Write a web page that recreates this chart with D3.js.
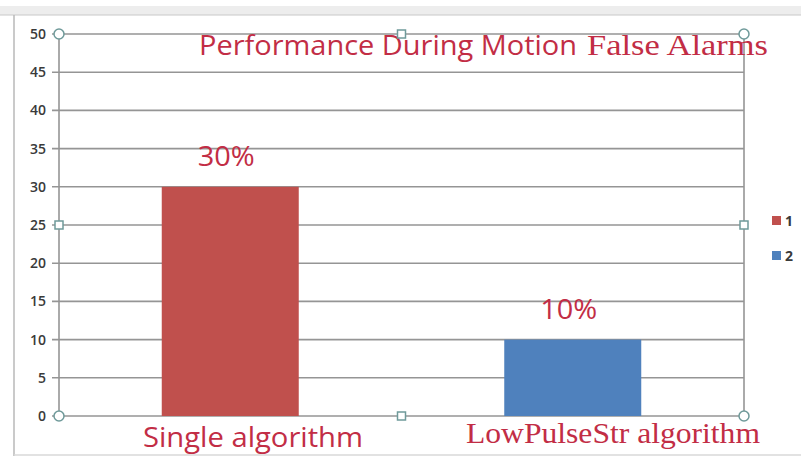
<!DOCTYPE html>
<html><head><meta charset="utf-8">
<script src="https://cdn.jsdelivr.net/npm/d3@7"></script>
<style>body{margin:0;background:#fff}svg{display:block}</style>
</head><body>
<svg id="c" width="801" height="461"></svg>
<script>
const categories = ["Single algorithm", "LowPulseStr algorithm"];
const values = [30, 10];
const valueLabels = ["30%", "10%"];
const seriesNames = ["1", "2"];
const yTicks = [0, 5, 10, 15, 20, 25, 30, 35, 40, 45, 50];
const titleParts = ["Performance During Motion", "False Alarms"];

const colors = ["#C0504D", "#4F81BD"];
const textRed = "#c22d45";
const svg = d3.select("#c");

// outer frame
svg.append("rect").attr("x", 0).attr("y", 6).attr("width", 801).attr("height", 9).attr("fill", "#ededed");
svg.append("line").attr("x1", 0).attr("x2", 801).attr("y1", 15).attr("y2", 15).attr("stroke", "#c8c8c8");
svg.append("line").attr("x1", 14).attr("x2", 14).attr("y1", 15).attr("y2", 456).attr("stroke", "#b8b8b8").attr("stroke-width", 1.5);
svg.append("line").attr("x1", 14).attr("x2", 801).attr("y1", 455).attr("y2", 455).attr("stroke", "#d8d8d8").attr("stroke-width", 1.5);

const L = 59, R = 744, T = 34, B = 416;
const x = d3.scaleBand().domain(categories).range([L, R]).paddingInner(0.6).paddingOuter(0.3);
const y = d3.scaleLinear().domain([0, 50]).range([B, T]);

// gridlines
svg.append("g").selectAll("line").data(yTicks).join("line")
  .attr("x1", L - 7).attr("x2", R).attr("y1", d => y(d)).attr("y2", d => y(d))
  .attr("stroke", "#959595").attr("stroke-width", 1.6);

// axis lines
svg.append("line").attr("x1", L).attr("x2", L).attr("y1", T).attr("y2", B).attr("stroke", "#959595").attr("stroke-width", 1.6);
svg.append("line").attr("x1", R).attr("x2", R).attr("y1", T).attr("y2", B).attr("stroke", "#959595").attr("stroke-width", 1.6);

// tick labels
svg.append("g").selectAll("text").data(yTicks).join("text")
  .attr("x", 46).attr("y", d => y(d)).attr("dy", "0.36em").attr("text-anchor", "end")
  .attr("font-family", "Open Sans, sans-serif").attr("font-size", 14).attr("font-weight", 600)
  .attr("fill", "#3a3a3a").text(d => d);

// bars
svg.append("g").selectAll("rect").data(values).join("rect")
  .attr("x", (d, i) => x(categories[i])).attr("width", x.bandwidth())
  .attr("y", d => y(d)).attr("height", d => B - y(d))
  .attr("fill", (d, i) => colors[i]);

// value labels
svg.append("g").selectAll("text").data(values).join("text")
  .attr("x", (d, i) => x(categories[i]) + x.bandwidth() / 2 - 4)
  .attr("y", d => y(d) - 21).attr("text-anchor", "middle")
  .attr("font-family", "Open Sans, sans-serif").attr("font-size", 27)
  .attr("textLength", 57).attr("lengthAdjust", "spacingAndGlyphs")
  .attr("fill", textRed).text((d, i) => valueLabels[i]);

// title
svg.append("text").attr("x", 199).attr("y", 55)
  .attr("font-family", "Open Sans, sans-serif").attr("font-size", 27)
  .attr("textLength", 378).attr("lengthAdjust", "spacingAndGlyphs")
  .attr("fill", textRed).text(titleParts[0]);
svg.append("text").attr("x", 587).attr("y", 55)
  .attr("font-family", "Liberation Serif, serif").attr("font-size", 29)
  .attr("textLength", 181).attr("lengthAdjust", "spacingAndGlyphs")
  .attr("fill", textRed).text(titleParts[1]);

// category labels
svg.append("text").attr("x", 143).attr("y", 447)
  .attr("font-family", "Open Sans, sans-serif").attr("font-size", 27)
  .attr("textLength", 220).attr("lengthAdjust", "spacingAndGlyphs")
  .attr("fill", textRed).text(categories[0]);
svg.append("text").attr("x", 466).attr("y", 443)
  .attr("font-family", "Liberation Serif, serif").attr("font-size", 29)
  .attr("textLength", 294).attr("lengthAdjust", "spacingAndGlyphs")
  .attr("fill", textRed).text(categories[1]);

// selection handles
const hc = "#6f9a9a";
[[L, T], [R, T], [L, B], [R, B]].forEach(p => {
  svg.append("circle").attr("cx", p[0]).attr("cy", p[1]).attr("r", 5)
    .attr("fill", "#fff").attr("stroke", hc).attr("stroke-width", 1.5);
});
[[(L + R) / 2, T], [(L + R) / 2, B], [L, (T + B) / 2], [R, (T + B) / 2]].forEach(p => {
  svg.append("rect").attr("x", p[0] - 4).attr("y", p[1] - 4).attr("width", 8).attr("height", 8)
    .attr("fill", "#fff").attr("stroke", hc).attr("stroke-width", 1.5);
});

// legend
const lg = svg.append("g");
seriesNames.forEach((s, i) => {
  lg.append("rect").attr("x", 772).attr("y", 216 + i * 35).attr("width", 9).attr("height", 9).attr("fill", colors[i]);
  lg.append("text").attr("x", 785).attr("y", 226 + i * 35)
    .attr("font-family", "Open Sans, sans-serif").attr("font-size", 14).attr("font-weight", 700)
    .attr("fill", "#3a3a3a").text(s);
});
</script>
</body></html>
